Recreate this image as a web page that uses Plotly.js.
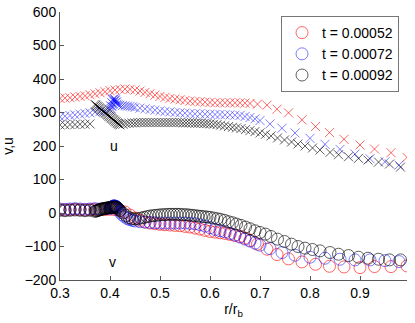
<!DOCTYPE html>
<html>
<head>
<meta charset="utf-8">
<script src="https://cdn.plot.ly/plotly-3.0.1.min.js"></script>
<style>
  html, body { margin: 0; padding: 0; background: #fff; }
  #chart { width: 415px; height: 323px; }
</style>
</head>
<body>
<div id="chart"></div>
<script>
const labels = ['t = 0.00052', 't = 0.00072', 't = 0.00092'];
const colors = ['rgba(255,0,0,0.6)', 'rgba(0,0,255,0.5)', 'rgba(0,0,0,0.62)'];

// t = 0.00052
const r1 = [0.30,0.31,0.32,0.33,0.34,0.35,0.36,0.37,0.38,0.39,0.40,0.41,0.42,0.43,0.44,0.45,0.46,0.47,0.48,0.49,
    0.50,0.51,0.52,0.53,0.54,0.55,0.56,0.57,0.58,0.59,0.60,0.61,0.62,0.63,0.64,0.65,0.66,0.67,0.68,
    0.695,0.714,0.734,0.757,0.784,0.811,0.839,0.868,0.900,0.929,0.962,0.994];
const u1 = [342,343,344,346,348,350,353,356,359,362,365,367,369,370,369,367,364,360,356,352,
    348,345,342,340,338,336,334,333,332,331,330,329,329,329,329,329,329,328,327,
    325,322,310,299,278,258,240,220,203,191,180,166];
const v1 = [10,9,10,11,10,9,10,11,10,10,11,10,8,3,-6,-15,-22,-27,-30,-32,
    -34,-35,-36,-37,-38,-40,-42,-45,-48,-52,-55,-57,-59,-61,-64,-67,-70,-75,-82,
    -93,-108,-124,-137,-146,-153,-159,-161,-163,-160,-160,-158];

// t = 0.00072
const r2 = [0.30,0.31,0.32,0.33,0.34,0.35,0.36,0.37,0.38,0.39,
    0.400,0.401,0.402,0.403,0.404,0.405,0.406,0.407,0.408,0.409,0.410,0.411,0.412,0.413,0.414,
    0.416,0.42,0.425,0.43,0.435,0.44,0.445,0.45,0.46,0.47,0.48,0.49,0.50,0.51,0.52,0.53,0.54,0.55,
    0.56,0.57,0.58,0.59,0.60,0.61,0.62,0.63,0.64,0.65,0.66,0.67,0.68,0.69,0.70,
    0.72,0.744,0.77,0.80,0.83,0.86,0.89,0.92,0.95,0.978];
const u2 = [287,289,291,293,295,297,299,301,303,305,
    308,320,312,330,318,338,326,340,333,341,336,338,330,332,325,
    323,322,321,320,319,318,317,315,313,311,309,307,305,303,302,300,299,298,
    297,296,296,295,295,294,294,293,293,292,291,288,285,281,276,
    266,253,239,223,205,190,176,162,153,143];
const v2 = [12,11,12,13,12,11,12,13,12,13,
    14,15,16,17,18,19,20,21,21,21,20,20,19,18,17,
    10,2,-6,-12,-17,-20,-22,-24,-26,-27,-28,-29,-30,-30,-30,-30,-30,-30,
    -31,-32,-35,-39,-44,-49,-53,-56,-61,-66,-72,-78,-84,-90,-96,
    -106,-118,-126,-132,-135,-138,-140,-140,-142,-145];

// t = 0.00092
const r3 = [0.30,0.31,0.32,0.33,0.34,0.35,0.36,
    0.370,0.372,0.374,0.376,0.378,0.380,0.382,0.384,0.386,0.388,0.390,0.392,0.394,0.396,0.398,
    0.400,0.402,0.404,0.406,0.408,0.410,0.412,0.414,0.416,0.418,0.420,
    0.426,0.432,0.438,0.444,0.450,0.456,0.462,0.468,0.474,0.480,0.486,0.492,0.498,0.504,0.510,
    0.516,0.522,0.528,0.534,0.540,0.546,0.552,0.558,0.564,0.570,0.576,0.582,0.588,0.594,0.600,
    0.607,0.614,0.621,0.629,0.637,0.645,0.653,0.662,0.671,0.680,0.690,0.700,0.711,0.722,0.735,
    0.749,0.763,0.776,0.790,0.805,0.820,0.840,0.857,0.877,0.897,0.916,0.937,0.959,0.981];
const u3 = [263,263,264,264,265,265,266,
    324,322,319,317,314,312,309,307,304,302,299,297,294,292,289,
    287,284,282,279,277,274,272,269,267,265,263,
    265,267,268,269,269,270,270,270,270,270,270,270,270,270,270,
    270,270,270,270,270,269,269,269,269,268,268,268,267,267,266,
    265,264,262,260,258,256,254,252,249,246,243,239,235,230,224,
    218,212,206,200,194,188,181,174,168,163,158,152,146,137];
const v3 = [8,7,8,9,8,7,8,
    5,6,7,8,9,10,11,12,12,13,14,14,15,15,16,
    16,17,17,17,18,18,17,16,14,11,7,
    0,-8,-14,-17,-18,-17,-15,-13,-11,-9,-8,-7,-6,-5,-5,
    -4,-4,-4,-4,-4,-5,-5,-6,-7,-8,-9,-10,-11,-12,-13,
    -15,-17,-19,-22,-26,-29,-33,-37,-42,-47,-53,-58,-63,-70,-78,
    -85,-93,-100,-105,-109,-113,-118,-123,-127,-132,-135,-138,-140,-140];

const rs = [r1, r2, r3];
const us = [u1, u2, u3];
const vs = [v1, v2, v3];

const traces = [];
for (let i = 0; i < 3; i++) {
    traces.push({
        x: rs[i], y: vs[i], mode: 'markers', name: labels[i],
        marker: {symbol: 'circle-open', size: 12, color: colors[i], line: {width: 1, color: colors[i]}},
    });
}
for (let i = 0; i < 3; i++) {
    traces.push({
        x: rs[i], y: us[i], mode: 'markers', name: labels[i], showlegend: false,
        marker: {symbol: 'x-thin-open', size: 9, color: colors[i], line: {width: 1, color: colors[i]}},
    });
}

const axisFont = {family: 'Liberation Sans, Arial, sans-serif', size: 14, color: '#000'};

Plotly.newPlot('chart', traces, {
    width: 415,
    height: 323,
    margin: {l: 60, r: 8, t: 12, b: 43},
    paper_bgcolor: '#fff',
    plot_bgcolor: '#fff',
    font: axisFont,
    showlegend: true,
    legend: {
        x: 0.977, y: 0.985, xanchor: 'right', yanchor: 'top',
        bgcolor: '#fff', bordercolor: '#777', borderwidth: 1,
        font: {family: 'Liberation Sans, Arial, sans-serif', size: 14, color: '#000'},
        itemwidth: 30,
    },
    xaxis: {
        range: [0.3, 0.994],
        tickvals: [0.3, 0.4, 0.5, 0.6, 0.7, 0.8, 0.9],
        ticktext: ['0.3', '0.4', '0.5', '0.6', '0.7', '0.8', '0.9'],
        ticks: 'inside', ticklen: 4, tickcolor: '#555',
        showline: true, linecolor: '#555', linewidth: 1,
        showgrid: false, zeroline: false,
        tickfont: axisFont,
        title: {text: 'r/r<sub>b</sub>', font: axisFont, standoff: 4},
    },
    yaxis: {
        range: [-200, 600],
        tickvals: [-200, -100, 0, 100, 200, 300, 400, 500, 600],
        ticktext: ['\u2212200', '\u2212100', '0', '100', '200', '300', '400', '500', '600'],
        ticks: 'inside', ticklen: 4, tickcolor: '#555',
        showline: true, linecolor: '#555', linewidth: 1,
        showgrid: false, zeroline: false,
        tickfont: axisFont,
        title: {text: 'v,u', font: axisFont, standoff: 8},
    },
    annotations: [
        {x: 0.407, y: 200, text: 'u', showarrow: false, font: axisFont},
        {x: 0.405, y: -145, text: 'v', showarrow: false, font: axisFont},
    ],
}, {displayModeBar: false, staticPlot: true});
</script>
</body>
</html>
